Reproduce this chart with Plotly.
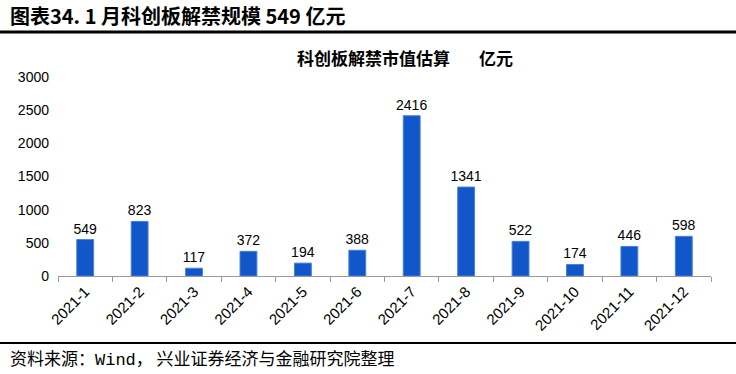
import plotly.graph_objects as go

categories = ["2021-1", "2021-2", "2021-3", "2021-4", "2021-5", "2021-6",
              "2021-7", "2021-8", "2021-9", "2021-10", "2021-11", "2021-12"]
values = [549, 823, 117, 372, 194, 388, 2416, 1341, 522, 174, 446, 598]
y_ticks = [0, 500, 1000, 1500, 2000, 2500, 3000]

L, R, T, B = 58, 25, 77, 98
PW, PH = 736 - L - R, 374 - T - B

def px(x):
    return (x - L) / PW

def py(y):
    return (374 - B - y) / PH

fig = go.Figure()
fig.add_trace(go.Bar(
    x=categories, y=values,
    marker=dict(color="#1157CA", line=dict(width=1, color="#4A80D8")),
    text=[str(v) for v in values], textposition="outside", constraintext="none",
    textfont=dict(family="Liberation Sans, Arial", size=14, color="#000"),
    cliponaxis=False, width=0.31,
))

fig.update_layout(
    width=736, height=374,
    margin=dict(l=L, r=R, t=T, b=B, autoexpand=False),
    paper_bgcolor="white", plot_bgcolor="white",
    showlegend=False,
    uniformtext=dict(mode=False),
    xaxis=dict(
        type="category", showline=True, linecolor="#999", linewidth=1,
        ticks="outside", ticklen=5, tickcolor="#999", tickson="boundaries",
        tickangle=-45, tickfont=dict(family="Liberation Sans, Arial", size=15, color="#000"),
        showgrid=False, automargin=False,
    ),
    yaxis=dict(
        range=[0, 3000], tickvals=y_ticks, showgrid=False, showline=False,
        zeroline=False, ticks="", ticklabelstandoff=8, automargin=False,
        tickfont=dict(family="Liberation Sans, Arial", size=14, color="#000"),
    ),
    annotations=[
        dict(text="<b>图表34. 1 月科创板解禁规模 549 亿元</b>", xref="paper", yref="paper",
             x=px(8), y=py(16), xanchor="left", yanchor="middle",
             showarrow=False, font=dict(family="Noto Sans CJK SC", size=20, color="#000")),
        dict(text="<b>科创板解禁市值估算\u3000\u2002\u2009亿元</b>", xref="paper", yref="paper",
             x=px(295), y=py(57), xanchor="left", yanchor="middle",
             showarrow=False, font=dict(family="Noto Sans CJK SC", size=17, color="#000")),
        dict(text="资料来源：<span style='font-family:Liberation Mono'>Wind</span>， 兴业证券经济与金融研究院整理",
             xref="paper", yref="paper",
             x=px(8), y=py(357), xanchor="left", yanchor="middle",
             showarrow=False, font=dict(family="Noto Sans CJK SC", size=17, color="#000")),
    ],
    shapes=[
        dict(type="line", xref="paper", yref="paper", x0=px(0), x1=px(736),
             y0=py(32), y1=py(32), line=dict(color="#000", width=3)),
        dict(type="line", xref="paper", yref="paper", x0=px(0), x1=px(736),
             y0=py(343), y1=py(343), line=dict(color="#000", width=2)),
    ],
)

fig.write_html("out.html",
               config={"displayModeBar": False},
               post_script="document.body.style.margin='0px';document.body.style.overflow='hidden';")
